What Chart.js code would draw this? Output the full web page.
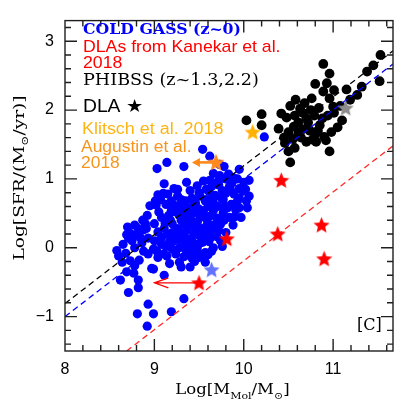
<!DOCTYPE html>
<html><head><meta charset="utf-8">
<script src="https://cdn.jsdelivr.net/npm/chart.js@4.4.0/dist/chart.umd.min.js"></script>
<style>html,body{margin:0;padding:0;background:#fff;}canvas{display:block;}</style>
</head><body>
<canvas id="c" width="401" height="400" style="width:401px;height:400px"></canvas>
<script>
const xTickLabels = [8, 9, 10, 11];
const yTickLabels = [-1, 0, 1, 2, 3];

const coldGassX = [9.54,9.62,9.14,9.03,9.33,9.95,9.83,9.73,9.62,9.64,9.11,9.22,9.40,9.26,9.04,9.51,9.61,9.72,9.84,9.95,
  9.99,10.06,10.04,9.93,9.86,9.77,9.66,9.57,9.44,9.37,9.28,9.13,8.95,9.19,9.33,9.44,9.55,9.66,9.77,9.84,
  9.97,9.88,9.08,9.00,8.91,8.82,8.78,8.73,8.71,8.80,8.86,8.93,9.04,9.11,9.20,9.30,9.37,9.48,9.59,9.66,
  9.62,9.55,9.44,9.35,9.24,9.17,9.08,8.99,8.93,9.04,9.11,9.20,9.28,9.39,9.51,9.61,9.66,9.57,9.50,9.40,
  9.28,9.17,8.97,8.78,8.58,8.60,8.64,8.73,8.78,8.69,8.62,8.77,8.82,8.71,8.82,8.93,8.99,8.81,9.19,9.33,
  8.92,10.06,10.03,9.95,9.64,9.55,10.23,9.73,9.10,9.31,9.73,8.69,8.88,8.99,9.11,9.30,9.53,9.57,
  9.05,9.12,9.16,9.24,9.26,9.33,9.40,9.45,9.51,9.52,9.58,9.62,9.70,9.71,9.74,9.79,9.80,9.89,9.91,9.76,
  9.68,9.49,9.42,9.35,9.19,9.15,9.22,9.30,9.33,9.43,9.48,9.70,9.72,9.38,9.45,9.00,8.87,8.92,9.36,9.48,
  9.55,9.66,9.80,9.60,9.24,9.33,9.01,9.28,9.87,9.93,9.78,
  8.65,8.68,8.75,8.84,8.88,8.83,8.90,8.70,9.02,9.07,9.15,9.18,9.22,9.26,9.30,9.32,9.08,9.13,9.20,9.27,
  9.03,9.14,9.38,9.42,9.46,9.50,9.53,9.57,9.58,9.50,9.40,9.36,9.54,9.60,9.45,9.35,9.42,9.65,9.70,9.75,
  9.78,9.82,9.85,9.90,9.95,9.68,9.74,9.80,9.88,9.76,9.63,9.58,10.00,10.02];
const coldGassY = [1.43,1.33,1.24,1.15,1.18,1.14,1.07,1.05,0.98,0.89,0.93,0.86,0.83,0.75,0.77,0.75,0.82,0.91,0.89,0.86,
  0.82,0.75,0.58,0.68,0.63,0.70,0.65,0.68,0.63,0.58,0.61,0.63,0.61,0.54,0.47,0.51,0.54,0.54,0.51,0.44,
  0.44,0.33,0.44,0.35,0.28,0.28,0.33,0.21,0.14,0.19,0.07,0.14,0.23,0.28,0.35,0.40,0.30,0.37,0.40,0.33,
  0.23,0.19,0.19,0.14,0.19,0.09,0.05,-0.02,-0.09,-0.14,-0.09,-0.02,0.00,0.02,0.07,0.09,0.00,-0.07,-0.14,-0.28,
  -0.21,-0.23,-0.30,0.00,-0.04,-0.12,-0.21,-0.19,-0.26,-0.35,-0.47,-0.37,-0.47,-0.65,-0.58,-0.82,-0.96,-0.96,-0.93,-0.74,
  -1.14,0.98,0.68,0.58,-0.05,0.14,1.61,1.21,0.79,0.58,1.00,0.19,0.26,-0.31,-0.40,-0.28,-0.10,-0.21,
  0.52,0.36,0.47,0.52,0.28,0.35,0.43,0.29,0.44,0.28,0.31,0.46,0.43,0.60,0.34,0.60,0.79,0.78,0.55,0.83,
  0.76,0.57,0.72,0.68,0.68,0.20,0.10,0.22,0.07,0.08,0.00,0.16,0.25,-0.10,-0.05,0.10,0.40,0.47,0.95,0.90,
  0.97,1.08,0.22,0.60,-0.09,-0.13,0.68,0.47,0.95,1.00,1.18,
  0.05,-0.08,0.10,0.15,-0.05,-0.18,0.35,0.30,0.62,0.70,0.78,0.40,0.62,0.85,0.70,0.55,0.15,0.02,0.22,0.12,
  -0.05,-0.12,0.50,0.38,0.65,0.80,0.52,0.45,0.85,0.18,0.12,0.25,0.08,-0.10,-0.20,-0.02,-0.15,0.72,0.95,0.72,
  0.40,0.58,0.85,0.45,0.72,0.28,0.10,1.00,1.02,0.02,0.15,0.70,0.95,0.85];

const phibssX = [10.03,10.20,10.20,11.53,11.38,11.52,10.89,10.96,10.93,10.89,11.01,10.96,10.68,10.76,10.84,10.52,10.57,10.66,10.48,10.61,
  10.72,10.79,10.94,11.01,11.08,11.19,11.27,11.32,10.39,10.50,10.61,10.74,10.77,10.70,10.90,10.46,10.57,10.81,10.92,10.96,
  10.52,10.50,10.56,10.66,10.85,11.05,10.45,10.63,10.88,10.80,10.70,
  10.55,10.64,10.83,10.98,11.10,10.75,10.58,10.80,11.15,11.45,10.42,11.00];
const phibssY = [1.85,1.94,1.78,2.80,2.56,2.42,2.67,2.53,2.39,2.27,2.29,2.17,2.10,2.17,2.03,2.06,1.92,1.96,1.89,1.82,
  1.82,1.92,1.92,1.96,2.06,2.15,2.22,2.34,1.73,1.68,1.66,1.70,1.57,1.54,1.61,1.52,1.45,1.54,1.56,1.40,
  1.24,1.40,1.76,1.72,1.78,1.75,1.60,2.02,1.88,1.65,1.88,
  1.58,1.60,1.70,1.68,1.85,2.00,2.15,2.38,2.30,2.65,1.95,2.05];

const kanekarX = [10.42, 9.81, 10.38, 10.87, 10.90, 9.50];
const kanekarY = [0.98, 0.13, 0.20, 0.33, -0.16, -0.51];
const kanekarLimitX = [9.50, 9.00];
const kanekarLimitY = [-0.51, -0.51];

const klitschX = [10.10], klitschY = [1.68];
const augustinX = [9.69], augustinY = [1.24];
const augustinLimitX = [9.75, 9.42], augustinLimitY = [1.24, 1.24];
const dlaBlueX = [9.64], dlaBlueY = [-0.32];
const dlaGrayX = [11.14], dlaGrayY = [2.03];

const fitBlackX = [8.0, 11.67], fitBlackY = [-0.81, 2.86];
const fitBlueX  = [8.0, 11.67], fitBlueY  = [-1.00, 2.67];
const fitRedX   = [8.69, 11.67], fitRedY  = [-1.50, 1.48];

const pts = (xs, ys) => xs.map((x, i) => ({x, y: ys[i]}));
function starImage(r, fill) {
  const s = Math.ceil(2 * r + 2);
  const c = document.createElement('canvas');
  c.width = s; c.height = s;
  const g = c.getContext('2d');
  g.beginPath();
  for (let i = 0; i < 10; i++) {
    const rad = i % 2 === 0 ? r : r * 0.45;
    const a = -Math.PI / 2 + i * Math.PI / 5;
    const px = s / 2 + rad * Math.cos(a), py = s / 2 + 0.6 + rad * Math.sin(a);
    if (i === 0) g.moveTo(px, py); else g.lineTo(px, py);
  }
  g.closePath(); g.fillStyle = fill; g.fill();
  return c;
}
function starSet(xs, ys, color, r) {
  return {data: pts(xs, ys), pointStyle: starImage(r, color), pointRadius: 8, order: 0,
          backgroundColor: color, borderWidth: 0};
}
function lineSet(xs, ys, color) {
  return {data: pts(xs, ys), showLine: true, borderColor: color, borderWidth: 1.3,
          borderDash: [6, 4], pointRadius: 0, fill: false, order: 1};
}

const FRAME = '#1e1e1e';
const framePlugin = {
  id: 'frame',
  afterDatasetsDraw(chart) {
    const {ctx, chartArea: a, scales: {x, y}} = chart;
    ctx.save();
    ctx.setLineDash([]);
    ctx.strokeStyle = FRAME; ctx.lineWidth = 1.4;
    ctx.beginPath();
    for (let k = 41; k <= 58; k++) {
      const px = x.getPixelForValue(k / 5);
      const L = k % 5 === 0 ? 12 : 6;
      ctx.moveTo(px, a.bottom); ctx.lineTo(px, a.bottom - L);
      ctx.moveTo(px, a.top); ctx.lineTo(px, a.top + L);
    }
    for (let k = -7; k <= 16; k++) {
      const py = y.getPixelForValue(k / 5);
      const L = k % 5 === 0 ? 12 : 6;
      ctx.moveTo(a.left, py); ctx.lineTo(a.left + L, py);
      ctx.moveTo(a.right, py); ctx.lineTo(a.right - L, py);
    }
    ctx.stroke();
    ctx.strokeRect(a.left, a.top, a.right - a.left, a.bottom - a.top);

    const ax = (v) => x.getPixelForValue(v), ay = (v) => y.getPixelForValue(v);
    ctx.strokeStyle = '#ff0000'; ctx.lineWidth = 1.2;
    let x0 = ax(kanekarLimitX[0]), x1 = ax(kanekarLimitX[1]), yy = ay(kanekarLimitY[0]);
    ctx.beginPath(); ctx.moveTo(x0, yy); ctx.lineTo(x1, yy);
    ctx.moveTo(x1 + 14, yy - 5); ctx.lineTo(x1, yy); ctx.lineTo(x1 + 14, yy + 5);
    ctx.stroke();
    ctx.strokeStyle = '#ff8a1c'; ctx.fillStyle = '#ff8a1c'; ctx.lineWidth = 2.6;
    x0 = ax(augustinLimitX[0]); x1 = ax(augustinLimitX[1]); yy = ay(augustinLimitY[0]);
    ctx.beginPath(); ctx.moveTo(x0, yy); ctx.lineTo(x1 + 6, yy); ctx.stroke();
    ctx.beginPath(); ctx.moveTo(x1, yy); ctx.lineTo(x1 + 8, yy - 4.5); ctx.lineTo(x1 + 8, yy + 4.5); ctx.closePath(); ctx.fill();
    ctx.beginPath();
    ctx.restore();
  }
};

function drawRich(ctx, parts, x, y, o) {
  let w = 0;
  const ws = parts.map(p => { ctx.font = p[1] ? o.subFont : o.font; const m = ctx.measureText(p[0]).width; w += m; return m; });
  ctx.save();
  ctx.beginPath();
  ctx.setLineDash([]);
  ctx.translate(x, y); ctx.rotate(o.rot || 0); ctx.scale(o.sx || 1, 1);
  ctx.fillStyle = o.color; ctx.textBaseline = 'alphabetic'; ctx.textAlign = 'left';
  let cx = o.align === 'left' ? 0 : -w / 2;
  parts.forEach((p, i) => { ctx.font = p[1] ? o.subFont : o.font; ctx.fillText(p[0], cx, p[1] ? o.subDy : 0); cx += ws[i]; });
  ctx.restore();
}
const SERIF = '"DejaVu Serif", "Liberation Serif", serif';
const SANS = '"Liberation Sans", Arial, sans-serif';

const textPlugin = {
  id: 'texts',
  afterDraw(chart) {
    const ctx = chart.ctx;
    const L = 83;
    const t = (s, x, y, font, color, sx) => drawRich(ctx, [[s, false]], x, y, {font, color, sx, align: 'left'});
    t('COLD GASS (z~0)', L, 34.3, 'bold 15px ' + SERIF, '#0000ff', 1.05);
    t('DLAs from Kanekar et al.', L, 51.7, '17px ' + SANS, '#ff0000', 1.04);
    t('2018', L, 68.3, '17px ' + SANS, '#ff0000', 1.04);
    t('PHIBSS (z~1.3,2.2)', L, 85, '16px ' + SERIF, '#000000', 1.1);
    t('DLA \u2605', L, 111.7, '18px ' + SANS, '#000000', 1.07);
    t('Klitsch et al. 2018', 82, 134.3, '16px ' + SANS, '#fdb515', 1.12);
    t('Augustin et al.', 81, 151.7, '16px ' + SANS, '#f7941d', 1.09);
    t('2018', 81, 168, '16px ' + SANS, '#f7941d', 1.09);
    t('[C]', 357, 329.5, '16px ' + SERIF, '#000000', 1.0);
    drawRich(ctx, [['Log[M', false], ['Mol', true], ['/M', false], ['\u2299', true], [']', false]],
      232.5, 394, {font: '15px ' + SERIF, subFont: '10px ' + SERIF, subDy: 4.5, color: '#000', sx: 1.1});
    drawRich(ctx, [['Log[SFR/(M', false], ['\u2299', true], ['/yr)]', false]],
      23.5, 178, {font: '15.5px ' + SERIF, subFont: '10px ' + SERIF, subDy: 4.5, color: '#000', sx: 1.2, rot: -Math.PI / 2});
  }
};

new Chart(document.getElementById('c'), {
  type: 'scatter',
  data: {
    datasets: [
      starSet(kanekarX, kanekarY, '#ff0000', 8.5),
      starSet(augustinX, augustinY, '#ff8a1c', 9),
      starSet(klitschX, klitschY, '#ffb000', 8.5),
      starSet(dlaBlueX, dlaBlueY, '#6272ff', 8.5),
      starSet(dlaGrayX, dlaGrayY, '#8c8c8c', 8.5),
      lineSet(fitBlackX, fitBlackY, '#000000'),
      lineSet(fitBlueX, fitBlueY, '#0000ff'),
      lineSet(fitRedX, fitRedY, '#ff2a2a'),
      {data: pts(phibssX, phibssY), backgroundColor: '#000000', borderWidth: 0, pointRadius: 4.9, order: 2},
      {data: pts(coldGassX, coldGassY), backgroundColor: '#0000ff', borderWidth: 0, pointRadius: 4.6, order: 3}
    ]
  },
  options: {
    responsive: false, animation: false, devicePixelRatio: 1,
    layout: {padding: {top: 9, right: 1, left: 0, bottom: 0}},
    plugins: {legend: {display: false}, tooltip: {enabled: false}},
    scales: {
      x: {
        type: 'linear', min: 8, max: 11.67,
        grid: {display: false, drawTicks: false}, border: {display: false},
        afterBuildTicks: s => { s.ticks = xTickLabels.map(v => ({value: v})); },
        afterFit: s => { s.height = 49; },
        ticks: {padding: 9, color: '#000', font: {family: SANS, size: 16}, maxRotation: 0, autoSkip: false,
                callback: v => String(v)}
      },
      y: {
        type: 'linear', min: -1.5, max: 3.3,
        grid: {display: false, drawTicks: false}, border: {display: false},
        afterBuildTicks: s => { s.ticks = yTickLabels.map(v => ({value: v})); },
        afterFit: s => { s.width = 65; },
        ticks: {padding: 11, color: '#000', font: {family: SANS, size: 16}, autoSkip: false,
                callback: v => (v < 0 ? '\u2212' + Math.abs(v) : String(v))}
      }
    }
  },
  plugins: [framePlugin, textPlugin]
});
</script>
</body></html>
